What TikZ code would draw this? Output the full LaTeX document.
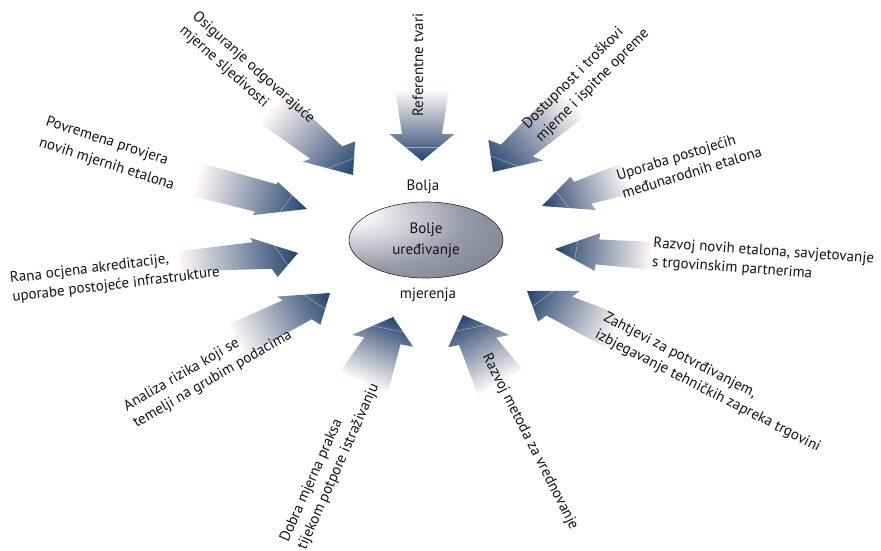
\documentclass[tikz,border=0pt]{standalone}
\usepackage{fontspec}
\setmainfont{PT Sans}
\usetikzlibrary{calc,shapes.geometric}
\definecolor{arrowblue}{RGB}{36,66,108}
\definecolor{tailwhite}{RGB}{253,246,245}
\definecolor{ellgray}{RGB}{80,82,108}
\definecolor{txt}{RGB}{20,20,20}
\pgfdeclareradialshading{ellshade}{\pgfpoint{-28bp}{20bp}}{color(0bp)=(white); color(5bp)=(white); color(30bp)=(ellgray!60!white); color(75bp)=(ellgray)}
\newcommand\garrow[9]{%
 \begin{scope}[transform canvas={shift={#1},rotate=-#2}]
  \pgfmathsetmacro\gaR{(#7-#5)/(#7+#9)}
  \pgfmathsetmacro\gaL{(#9-#5)/(#7+#9)}
  \coordinate (cR) at (-#6,#7);
  \coordinate (cL) at (-#8,-#9);
  \shade[arrowfill] (-#3,#4) -- ($(cR)!\gaR!(cL)$) -- (cR) -- (0,0) -- (cL) -- ($(cL)!\gaL!(cR)$) -- (-#3,-#4) -- cycle;
  \draw[seam] ($(cR)!0.5!(0,0)$) -- ($(cL)!0.5!(0,0)$);
 \end{scope}}
\begin{document}
\begin{tikzpicture}[x=1pt,y=-1pt,
  arrowfill/.style={left color=tailwhite, right color=arrowblue},
  seam/.style={draw=white, line width=0.5pt, opacity=0.45},
  lbl/.style={inner sep=0pt, align=left, text=txt, font=\fontsize{15}{19}\selectfont},
  mid/.style={inner sep=0pt, align=center, text=txt, font=\fontsize{15}{21}\selectfont}]
\useasboundingbox (0,0) rectangle (881,551);
\fill[white] (0,0) rectangle (881,551);
% arrows: tip, angle, L, wt, wb, hR, WR, hL, WL
\garrow{(422,161)}{90}{69}{26.5}{20}{27}{32.5}{27}{32.5}
\garrow{(353,175)}{40}{104}{20}{15}{47}{22}{20}{27}
\garrow{(493,172)}{138}{104}{20}{15}{18}{27}{45}{25}
\garrow{(542,206)}{162}{88}{16}{13}{36}{19}{50}{20.5}
\garrow{(555,249)}{184}{95}{14}{12.5}{44}{19}{41}{19}
\garrow{(527,291)}{205}{96}{18}{14}{48}{22.4}{23}{23}
\garrow{(463,315)}{241}{76}{25.5}{18}{40}{31}{21}{28.6}
\garrow{(393,317)}{294}{71}{26}{18}{19}{30.5}{33}{30}
\garrow{(330,293)}{333}{104}{18}{15}{23}{24}{49}{21}
\garrow{(298,253)}{356}{118}{10}{14}{22}{22.5}{47}{18.5}
\garrow{(307,209)}{15}{112}{17}{16}{51}{20}{35}{18.6}
% centre
\node[ellipse, draw=black!85, line width=0.6pt, minimum width=154pt, minimum height=76pt, shading=ellshade, inner sep=0pt] (ell) at (426,240) {};
\node[mid] (core) at (426,240) {Bolje\\uređivanje};
\node[mid] (bolja) at (423,187) {Bolja};
\node[mid] (mjer) at (428,295) {mjerenja};
% labels
\node[lbl, rotate=90] (t1) at (418,65) {Referentne tvari};
\node[lbl, rotate=-42] (t2) at (247,75) {Osiguranje odgovarajuće\\mjerne sljedivosti};
\node[lbl, rotate=45] (t3) at (586,79) {Dostupnost i troškovi\\mjerne i ispitne opreme};
\node[lbl, rotate=17] (t4) at (689,163) {Uporaba postojećih\\međunarodnih etalona};
\node[lbl, rotate=-4] (t5) at (763,261) {Razvoj novih etalona, savjetovanje\\s trgovinskim partnerima};
\node[lbl, rotate=-27] (t6) at (712,383) {Zahtjevi za potvrđivanjem,\\izbjegavanje tehničkih zapreka trgovini};
\node[lbl, rotate=-63] (t7) at (530,442) {Razvoj metoda za vrednovanje};
\node[lbl, rotate=66] (t8) at (330,463) {Dobra mjerna praksa\\tijekom potpore istraživanju};
\node[lbl, rotate=30] (t9) at (208,371) {Analiza rizika koji se\\temelji na grubim podacima};
\node[lbl, rotate=7] (t10) at (115,276) {Rana ocjena akreditacije,\\uporabe postojeće infrastrukture};
\node[lbl, rotate=-18] (t11) at (110,154) {Povremena provjera\\[3pt]novih mjernih etalona};
\end{tikzpicture}
\end{document}
